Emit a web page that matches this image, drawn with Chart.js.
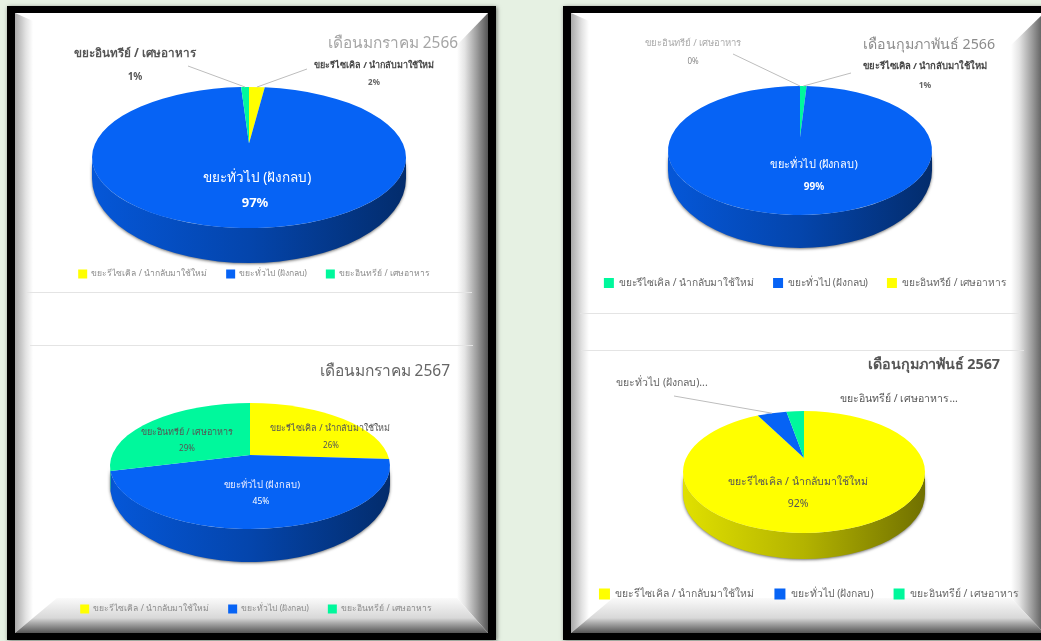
<!DOCTYPE html>
<html lang="th">
<head>
<meta charset="utf-8">
<title>ปริมาณขยะ</title>
<script src="https://cdn.jsdelivr.net/npm/chart.js@4/dist/chart.umd.min.js"></script>
<style>
  html, body { margin: 0; padding: 0; width: 1041px; height: 641px; overflow: hidden; background: #e6f1e3; }
  .frame { position: absolute; top: 6px; height: 634px; background: #000; box-shadow: 1px 1px 4px rgba(0,0,0,.5); }
  .sheet { position: absolute; top: 13px; height: 620px; background: #fff; overflow: hidden; }
  .bevel { position: absolute; inset: 0; }
  .panel { position: absolute; height: 0; border-top: 1px solid #e4e4e4; }
  canvas { position: absolute; left: 0; top: 0; filter: blur(0.35px); }
</style>
</head>
<body>
<div class="frame" style="left:7px;width:489px"></div>
<div class="sheet" style="left:15px;width:473px" data-inset="18,31"></div>
<div class="frame" style="left:563px;width:490px"></div>
<div class="sheet" style="left:571px;width:473px" data-inset="18,33"></div>
<div class="panel" style="left:27px;top:292px;width:445px"></div>
<div class="panel" style="left:30px;top:345px;width:443px"></div>
<div class="panel" style="left:580px;top:313px;width:440px"></div>
<div class="panel" style="left:581px;top:350px;width:443px"></div>
<canvas id="jan66" width="1041" height="641"></canvas>
<canvas id="jan67" width="1041" height="641"></canvas>
<canvas id="feb66" width="1041" height="641"></canvas>
<canvas id="feb67" width="1041" height="641"></canvas>
<script>
// ชื่อประเภทขยะ
const RECYCLE = 'ขยะรีไซเคิล / นำกลับมาใช้ใหม่';
const GENERAL = 'ขยะทั่วไป (ฝังกลบ)';
const ORGANIC = 'ขยะอินทรีย์ / เศษอาหาร';

// สี
const YELLOW = '#ffff00';
const BLUE = '#0663f5';
const GREEN = '#00f89c';

// ข้อมูลแต่ละเดือน
const jan66Labels = [RECYCLE, GENERAL, ORGANIC];
const jan66Values = [2, 97, 1];
const jan66Colors = [YELLOW, BLUE, GREEN];

const jan67Labels = [RECYCLE, GENERAL, ORGANIC];
const jan67Values = [26, 45, 29];
const jan67Colors = [YELLOW, BLUE, GREEN];

const feb66Labels = [RECYCLE, GENERAL, ORGANIC];
const feb66Values = [1, 99, 0];
const feb66Colors = [GREEN, BLUE, YELLOW];

const feb67Labels = [RECYCLE, GENERAL, ORGANIC];
const feb67Values = [92, 5, 3];
const feb67Colors = [YELLOW, BLUE, GREEN];

const FONT = '"Noto Sans", "DejaVu Sans", sans-serif';

// ขอบนูนของกรอบ
document.querySelectorAll('.sheet').forEach(sheet => {
  const [left, right] = sheet.dataset.inset.split(',').map(Number);
  const w = 473, h = 620, top = 8, bot = 35;
  const add = (poly, bg) => {
    const d = document.createElement('div');
    d.className = 'bevel';
    d.style.clipPath = 'polygon(' + poly.map(p => p[0] + 'px ' + p[1] + 'px').join(',') + ')';
    d.style.background = bg;
    sheet.appendChild(d);
  };
  add([[0, 0], [w, 0], [w - right, top], [left, top]], '#fff');
  add([[0, 0], [left, top], [left + 24, h - bot], [0, h]], 'linear-gradient(90deg,#a8a8a8 0,#e2e2e2 ' + (left * 0.6) + 'px,#fff ' + left + 'px)');
  add([[w, 0], [w, h], [w - right, h - bot], [w - right, 32]], 'linear-gradient(270deg,#555 0,#9a9a9a ' + (right * 0.35) + 'px,#e4e4e4 ' + (right * 0.75) + 'px,#fff ' + right + 'px)');
  add([[0, h], [left + 24, h - bot], [w - right, h - bot], [w, h]], 'linear-gradient(0deg,#555 0,#aaa 10px,#d8d8d8 15px,#fafafa ' + bot + 'px)');
});

function shade(hex, f) {
  const n = parseInt(hex.slice(1), 16);
  return 'rgb(' + [(n >> 16) & 255, (n >> 8) & 255, n & 255].map(v => Math.round(v * f)).join(',') + ')';
}

// วาดวงกลมแบบ 3 มิติจาก arc ของ Chart.js (มุมมาจากค่าข้อมูล)
function makePie3d(cfg) {
  const { cx, cy, ry, tipOff, depth, drop } = cfg;
  const tipNorm = -tipOff / ry;

  function rimParam(angle) {
    const t = angle + Math.PI / 2;
    const dx = Math.sin(t), dy = -Math.cos(t);
    const b = tipNorm * dy, c = tipNorm * tipNorm - 1;
    const s = -b + Math.sqrt(b * b - c);
    return Math.atan2(tipNorm + s * dy, s * dx);
  }

  return {
    id: 'pie3d',
    beforeDatasetDraw(chart, args) {
      const ctx = chart.ctx;
      const arcs = chart.getDatasetMeta(args.index).data;
      const colors = chart.data.datasets[args.index].backgroundColor;
      const rx = arcs[0].outerRadius;

      // ผนังด้านข้าง
      arcs.forEach((arc, i) => {
        if (arc.endAngle - arc.startAngle < 1e-6) return;
        let a0 = rimParam(arc.startAngle), a1 = rimParam(arc.endAngle);
        if (a0 < 0) a0 += 2 * Math.PI;
        while (a1 <= a0) a1 += 2 * Math.PI;
        [[0, Math.PI], [2 * Math.PI, 3 * Math.PI]].forEach(([lo, hi]) => {
          const s = Math.max(a0, lo), e = Math.min(a1, hi);
          if (e <= s) return;
          const g = ctx.createLinearGradient(cx - rx, 0, cx + rx, 0);
          g.addColorStop(0, shade(colors[i], 0.88));
          g.addColorStop(0.5, shade(colors[i], 0.7));
          g.addColorStop(1, shade(colors[i], 0.44));
          ctx.save();
          ctx.shadowColor = 'rgba(0,0,0,.55)';
          ctx.shadowBlur = 3;
          ctx.shadowOffsetY = 1;
          ctx.fillStyle = g;
          ctx.beginPath();
          ctx.ellipse(cx, cy, rx, ry, 0, s, e);
          ctx.ellipse(cx, cy + drop, rx, ry + depth - drop, 0, e, s, true);
          ctx.closePath();
          ctx.fill();
          ctx.restore();
        });
      });

      // หน้าบน
      arcs.forEach((arc, i) => {
        if (arc.endAngle - arc.startAngle < 1e-6) return;
        const a0 = rimParam(arc.startAngle), a1 = rimParam(arc.endAngle);
        ctx.fillStyle = colors[i];
        ctx.beginPath();
        ctx.moveTo(cx, cy - tipOff);
        ctx.ellipse(cx, cy, rx, ry, 0, a0, a1);
        ctx.closePath();
        ctx.fill();
      });

      // เส้นชี้ป้าย
      ctx.strokeStyle = '#bdbdbd';
      ctx.lineWidth = 1;
      (cfg.leaders || []).forEach(l => {
        const arc = arcs[l.slice];
        const p = rimParam((arc.startAngle + arc.endAngle) / 2);
        ctx.beginPath();
        ctx.moveTo(l.x, l.y);
        ctx.lineTo(cx + rx * Math.cos(p), cy + ry * Math.sin(p));
        ctx.stroke();
      });
      return false;
    },
    afterDatasetsDraw(chart) {
      const ctx = chart.ctx;
      ctx.save();
      ctx.textBaseline = 'middle';
      cfg.texts.forEach(t => {
        ctx.font = (t.weight || 400) + ' ' + t.size + 'px ' + FONT;
        ctx.fillStyle = t.color;
        ctx.textAlign = t.align || 'center';
        ctx.fillText(t.text, t.x, t.y);
      });
      ctx.restore();
    }
  };
}

function drawPie(id, labels, values, colors, cfg) {
  const lg = cfg.legend;
  const itemH = Math.max(lg.size, lg.box);
  new Chart(document.getElementById(id), {
    type: 'pie',
    data: { labels: labels, datasets: [{ data: values, backgroundColor: colors, borderWidth: 0 }] },
    options: {
      responsive: false,
      animation: false,
      radius: cfg.rx,
      layout: { padding: { left: 2 * lg.cx - 1041, right: 0, top: 0, bottom: 641 - (lg.y + 11 + itemH / 2) } },
      plugins: {
        title: { display: false },
        tooltip: { enabled: false },
        legend: {
          position: 'bottom',
          labels: { boxWidth: lg.box, boxHeight: lg.box, padding: lg.gap, color: lg.color, font: { size: lg.size, family: FONT } }
        }
      }
    },
    plugins: [makePie3d(cfg)]
  });
}

drawPie('jan66', jan66Labels, jan66Values, jan66Colors, {
  rx: 157, cx: 249, cy: 157.5, ry: 70.5, tipOff: 14, depth: 35, drop: 21,
  legend: { cx: 254, y: 273, box: 9, size: 8.6, gap: 19, color: '#8c8c8c' },
  leaders: [{ slice: 2, x: 188, y: 66 }, { slice: 0, x: 307, y: 69 }],
  texts: [
    { text: 'เดือนมกราคม 2566', x: 458, y: 44, size: 15.4, color: '#a6a6a6', align: 'right' },
    { text: ORGANIC, x: 135, y: 54, size: 11.7, color: '#555', weight: 700 },
    { text: jan66Values[2] + '%', x: 135, y: 77, size: 10, color: '#555', weight: 700 },
    { text: RECYCLE, x: 374, y: 65, size: 9, color: '#444', weight: 700 },
    { text: jan66Values[0] + '%', x: 374, y: 83, size: 8, color: '#666', weight: 700 },
    { text: GENERAL, x: 257, y: 178, size: 13.5, color: '#fff' },
    { text: jan66Values[1] + '%', x: 255, y: 203, size: 13, color: '#fff', weight: 700 }
  ]
});

drawPie('jan67', jan67Labels, jan67Values, jan67Colors, {
  rx: 140, cx: 250, cy: 466, ry: 63, tipOff: 11, depth: 33, drop: 19,
  legend: { cx: 256, y: 608, box: 9, size: 8.6, gap: 19, color: '#8c8c8c' },
  texts: [
    { text: 'เดือนมกราคม 2567', x: 450, y: 372, size: 15.5, color: '#666', align: 'right' },
    { text: ORGANIC, x: 187, y: 432, size: 9, color: '#555' },
    { text: jan67Values[2] + '%', x: 187, y: 449, size: 8, color: '#555' },
    { text: RECYCLE, x: 330, y: 428, size: 9, color: '#555' },
    { text: jan67Values[0] + '%', x: 331, y: 446, size: 8, color: '#555' },
    { text: GENERAL, x: 262, y: 485, size: 9.5, color: '#eef' },
    { text: jan67Values[1] + '%', x: 261, y: 502, size: 8.5, color: '#fff' }
  ]
});

drawPie('feb66', feb66Labels, feb66Values, feb66Colors, {
  rx: 132, cx: 800, cy: 150.5, ry: 64.5, tipOff: 13, depth: 33, drop: 20,
  legend: { cx: 805, y: 282, box: 10, size: 10.2, gap: 19, color: '#666' },
  leaders: [{ slice: 2, x: 733, y: 54 }, { slice: 0, x: 851, y: 73 }],
  texts: [
    { text: 'เดือนกุมภาพันธ์ 2566', x: 995, y: 45, size: 14.2, color: '#8c8c8c', align: 'right' },
    { text: ORGANIC, x: 693, y: 43, size: 9.5, color: '#aaa' },
    { text: feb66Values[2] + '%', x: 693, y: 62, size: 8, color: '#888' },
    { text: RECYCLE, x: 925, y: 66, size: 9.5, color: '#444', weight: 700 },
    { text: feb66Values[0] + '%', x: 925, y: 86, size: 8.5, color: '#666', weight: 700 },
    { text: GENERAL, x: 814, y: 165, size: 11, color: '#fff' },
    { text: feb66Values[1] + '%', x: 814, y: 187, size: 10, color: '#fff', weight: 700 }
  ]
});

drawPie('feb67', feb67Labels, feb67Values, feb67Colors, {
  rx: 121, cx: 804, cy: 472, ry: 61, tipOff: 14, depth: 26, drop: 22,
  legend: { cx: 809, y: 593, box: 11, size: 10.4, gap: 20, color: '#666' },
  leaders: [{ slice: 1, x: 674, y: 396 }],
  texts: [
    { text: 'เดือนกุมภาพันธ์ 2567', x: 1000, y: 365, size: 14.3, color: '#555', weight: 700, align: 'right' },
    { text: GENERAL + '...', x: 662, y: 383, size: 10.5, color: '#666' },
    { text: ORGANIC + '...', x: 899, y: 399, size: 10.5, color: '#555' },
    { text: RECYCLE, x: 798, y: 482, size: 10.5, color: '#555' },
    { text: feb67Values[0] + '%', x: 798, y: 504, size: 10.5, color: '#555' }
  ]
});
</script>
</body>
</html>
